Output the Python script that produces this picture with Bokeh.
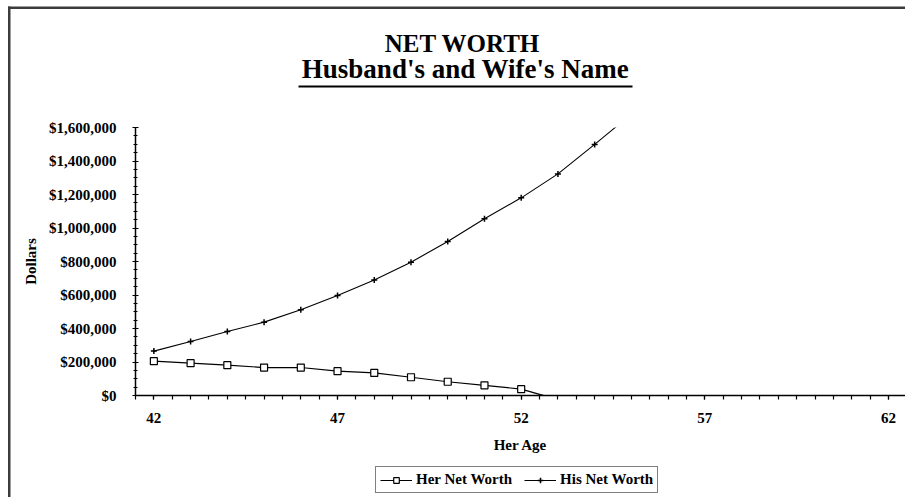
from bokeh.plotting import figure
from bokeh.models import (ColumnDataSource, NumeralTickFormatter, FixedTicker, Range1d,
                          Legend, LegendItem, Label, BoxAnnotation)
from bokeh.embed import file_html
from bokeh.resources import INLINE

# ---- data ----
her_age = [42, 43, 44, 45, 46, 47, 48, 49, 50, 51, 52, 53]
her_net_worth = [205000, 193000, 181000, 167000, 167000, 145000, 135000, 109000,
                 82000, 61000, 38000, -25000]
his_age = [42, 43, 44, 45, 46, 47, 48, 49, 50, 51, 52, 53, 54, 55]
his_net_worth = [265000, 322000, 382000, 438000, 512000, 597000, 690000, 796000,
                 919000, 1055000, 1180000, 1323000, 1499000, 1680000]
x_labels = [42, 47, 52, 57, 62]
y_ticks = [0, 200000, 400000, 600000, 800000, 1000000, 1200000, 1400000, 1600000]
x_min, x_max = 41.5, 62.5
y_min, y_max = 0, 1600000

title1 = "NET WORTH"
title2 = "Husband's and Wife's Name"

SERIF = "Liberation Serif"

# ---- layout (pixels of the canvas) ----
W, H = 905, 497
axis_left_px = 135          # x of the value axis from the canvas left
axis_right_px = 906.4       # where x_max would fall
axis_bottom_px = 395        # y of the $0 line from the canvas top
axis_top_px = 127           # y of the top value from the canvas top

px_per_x = (axis_right_px - axis_left_px) / (x_max - x_min)
px_per_y = (axis_bottom_px - axis_top_px) / (y_max - y_min)
xr = Range1d(x_min - axis_left_px / px_per_x, x_max + (W - axis_right_px) / px_per_x)
yr = Range1d(y_min - (H - axis_bottom_px) / px_per_y, y_max + axis_top_px / px_per_y)

p = figure(width=W, height=H, output_backend="svg", toolbar_location=None,
           x_range=xr, y_range=yr, min_border=0, min_border_left=0,
           min_border_right=0, min_border_top=0, min_border_bottom=0)
p.outline_line_color = None
p.xgrid.visible = False
p.ygrid.visible = False
p.background_fill_color = "white"
p.border_fill_color = "white"

her_src = ColumnDataSource(dict(x=her_age, y=her_net_worth))
his_src = ColumnDataSource(dict(x=his_age, y=his_net_worth))

her_line = p.line("x", "y", source=her_src, line_color="black", line_width=1.2)
her_pts = p.scatter("x", "y", source=her_src, marker="square", size=7,
                    fill_color="white", line_color="black", line_width=1.2)
his_line = p.line("x", "y", source=his_src, line_color="black", line_width=1.1)
his_pts = p.scatter("x", "y", source=his_src, marker="cross", size=6,
                    line_color="black", line_width=1.5)

# white covers outside the value area (plot clipping)
cover_top = BoxAnnotation(left=x_min, bottom=y_max, fill_color="white", fill_alpha=1,
                          line_color=None, level="glyph")
cover_bottom = BoxAnnotation(left=x_min, top=y_min, fill_color="white", fill_alpha=1,
                             line_color=None, level="glyph")
p.renderers.append(cover_top)
p.renderers.append(cover_bottom)

# x axis
minor_x = [x_min + 0.5 * i for i in range(43)]
p.xaxis.ticker = FixedTicker(ticks=x_labels, minor_ticks=minor_x)
p.xaxis.fixed_location = y_min
p.xaxis.bounds = (x_min, x_max)
p.xaxis.axis_label = "Her Age"
p.xaxis.major_tick_in = 0
p.xaxis.major_tick_out = 4
p.xaxis.minor_tick_in = 0
p.xaxis.minor_tick_out = 4
p.xaxis.major_label_standoff = 13
p.xaxis.axis_label_standoff = 11

# y axis
minor_y = [50000 * i for i in range(33)]
p.yaxis.ticker = FixedTicker(ticks=y_ticks, minor_ticks=minor_y)
p.yaxis.fixed_location = x_min
p.yaxis.bounds = (y_min, y_max)
p.yaxis.formatter = NumeralTickFormatter(format="$0,0")
p.yaxis.axis_label = "Dollars"
p.yaxis.major_tick_in = 3
p.yaxis.major_tick_out = 3
p.yaxis.minor_tick_in = 2
p.yaxis.minor_tick_out = 2
p.yaxis.major_label_standoff = 16
p.yaxis.axis_label_standoff = 7

for ax in (p.xaxis, p.yaxis):
    ax.axis_line_color = "black"
    ax.axis_line_width = 1.5
    ax.major_tick_line_color = "black"
    ax.minor_tick_line_color = "black"
    ax.major_tick_line_width = 1.2
    ax.minor_tick_line_width = 1.2
    ax.major_label_text_font = SERIF
    ax.major_label_text_font_style = "bold"
    ax.major_label_text_font_size = "15px"
    ax.major_label_text_color = "black"
    ax.axis_label_text_font = SERIF
    ax.axis_label_text_font_style = "bold"
    ax.axis_label_text_font_size = "15px"
    ax.axis_label_text_color = "black"

# titles (screen units from the canvas bottom-left)
t1 = Label(x=462, y=454, x_units="screen", y_units="screen", text=title1,
           text_align="center", text_baseline="middle", text_font=SERIF,
           text_font_style="bold", text_font_size="25px", text_color="black")
t2 = Label(x=465, y=429, x_units="screen", y_units="screen", text=title2,
           text_align="center", text_baseline="middle", text_font=SERIF,
           text_font_style="bold", text_font_size="27px", text_color="black")
underline = BoxAnnotation(left=298, right=632, bottom=410, top=412,
                          left_units="screen", right_units="screen",
                          bottom_units="screen", top_units="screen",
                          fill_color="black", fill_alpha=1, line_color=None)
p.add_layout(t1)
p.add_layout(t2)
p.add_layout(underline)

# chart border (top and left edges)
border_top = BoxAnnotation(left=7.5, right=W, bottom=H - 8.5, top=H - 6,
                           left_units="screen", right_units="screen",
                           bottom_units="screen", top_units="screen",
                           fill_color="#3c3c3c", fill_alpha=1, line_color=None)
border_left = BoxAnnotation(left=7.5, right=10, bottom=0, top=H - 6,
                            left_units="screen", right_units="screen",
                            bottom_units="screen", top_units="screen",
                            fill_color="#3c3c3c", fill_alpha=1, line_color=None)
p.add_layout(border_top)
p.add_layout(border_left)

legend = Legend(items=[LegendItem(label="Her Net Worth", renderers=[her_line, her_pts]),
                       LegendItem(label="His Net Worth", renderers=[his_line, his_pts])],
                orientation="horizontal", location=(375, 4),
                border_line_color="black", border_line_width=1.2,
                background_fill_color="white", background_fill_alpha=1,
                label_text_font=SERIF, label_text_font_style="bold",
                label_text_font_size="15px", label_text_color="black",
                glyph_width=32, glyph_height=14, label_standoff=4,
                spacing=12, padding=4, margin=0)
p.add_layout(legend, "center")

open("out.html", "w").write(file_html(p, INLINE))
